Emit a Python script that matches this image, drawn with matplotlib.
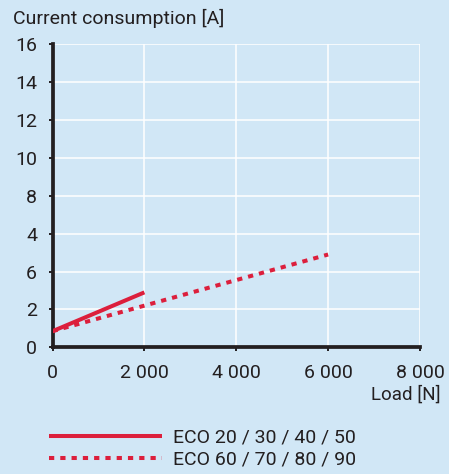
import matplotlib.pyplot as plt
from matplotlib.ticker import FixedLocator, FixedFormatter

# dados
carga_eco20 = [0, 2000]
corrente_eco20 = [0.85, 2.9]
carga_eco60 = [0, 6000]
corrente_eco60 = [0.85, 4.9]

x_ticks = [0, 2000, 4000, 6000, 8000]
x_labels = ["0", "2 000", "4 000", "6 000", "8 000"]
y_ticks = [0, 2, 4, 6, 8, 10, 12, 14, 16]
y_labels = ["0", "2", "6", "4", "8", "10", "12", "14", "16"]  # como no original

fundo = "#d1e7f6"
vermelho = "#dc1f3c"
texto = "#231f20"

plt.rcParams['font.family'] = ['Roboto', 'DejaVu Sans']
plt.rcParams['text.color'] = texto

W, H = 449, 474
fig = plt.figure(figsize=(W / 100, H / 100), dpi=100, facecolor=fundo)
ax = fig.add_axes([52.5 / W, 1 - 347.3 / H, (420 - 52.5) / W, (347.3 - 44.3) / H])
ax.set_facecolor(fundo)

ax.plot(carga_eco20, corrente_eco20, color=vermelho, lw=2.9, solid_capstyle='butt',
        label="ECO 20 / 30 / 40 / 50", zorder=3)
ax.plot(carga_eco60, corrente_eco60, color=vermelho, lw=2.9, dashes=(1.3, 1.5),
        dash_capstyle='butt', label="ECO 60 / 70 / 80 / 90", zorder=3)

ax.set_xlim(0, 8000)
ax.set_ylim(0, 16)
ax.xaxis.set_major_locator(FixedLocator(x_ticks))
ax.xaxis.set_major_formatter(FixedFormatter(x_labels))
ax.yaxis.set_major_locator(FixedLocator(y_ticks))
ax.yaxis.set_major_formatter(FixedFormatter(y_labels))

for lado in ['top', 'right']:
    ax.spines[lado].set_visible(False)
for lado in ['left', 'bottom']:
    ax.spines[lado].set_linewidth(2.7)
    ax.spines[lado].set_color(texto)
    ax.spines[lado].set_capstyle('projecting')

ax.tick_params(axis='both', colors=texto, labelcolor=texto, labelsize=14,
               length=3, width=1.4, direction='out')
ax.tick_params(axis='y', pad=8)
ax.tick_params(axis='x', pad=9)
ax.grid(True, color='white', lw=1.1)
ax.set_axisbelow(True)

fig.text(13 / W, 1 - 9 / H, "Current consumption [A]", fontsize=14,
         ha='left', va='top')
fig.text(441 / W, 1 - 404 / H, "Load [N]", fontsize=13.5, ha='right', va='bottom')

fig.legend(loc='upper left', bbox_to_anchor=(49 / W, 1 - 429 / H), frameon=False,
           fontsize=14, handlelength=5.8, handletextpad=0.6, labelspacing=0.2,
           borderpad=0, borderaxespad=0)

fig.savefig("out.png", dpi=100, facecolor=fundo)
